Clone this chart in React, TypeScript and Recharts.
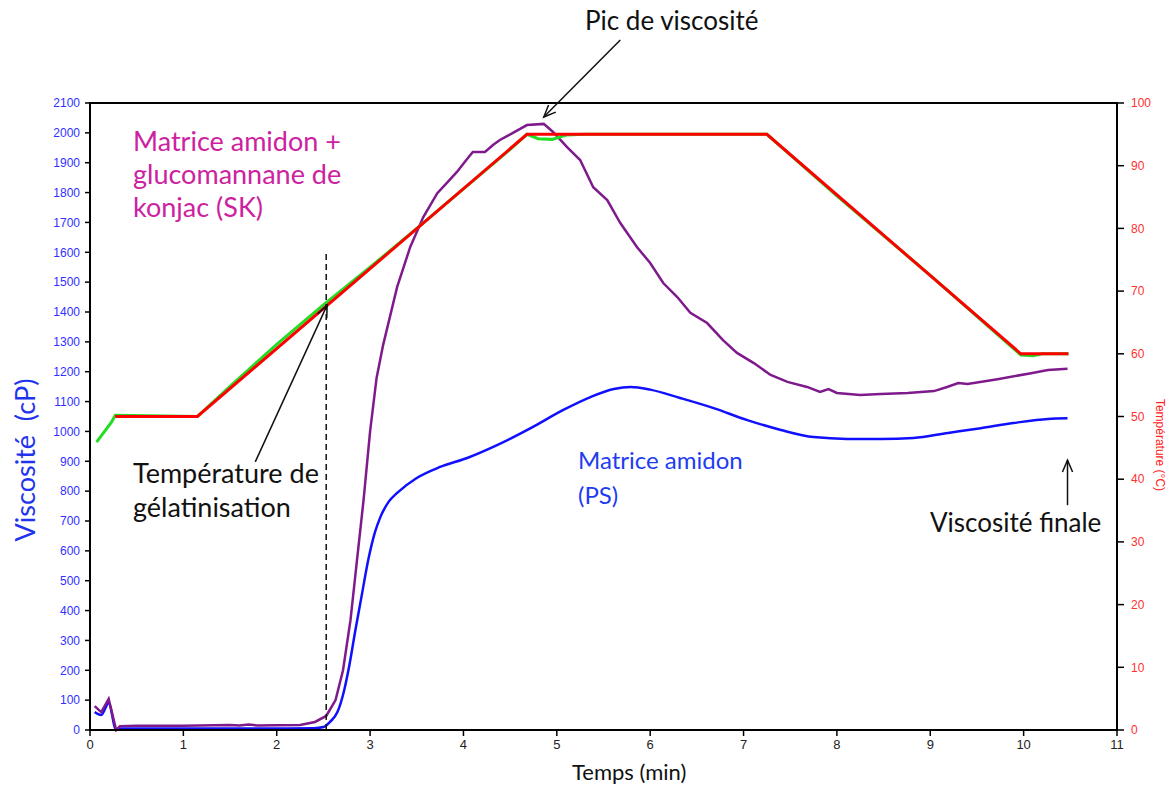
import React from 'react';
import { ComposedChart, Line, XAxis, YAxis, ReferenceLine, ReferenceArea } from 'recharts';

// Temps (min) / viscosité (cP) — matrice amidon + glucomannane de konjac (SK)
const skTime = [0.05, 0.12, 0.2, 0.28, 0.32, 0.5, 1.0, 1.5, 1.6, 1.7, 1.8, 2.0, 2.25, 2.41, 2.53, 2.63, 2.71, 2.79, 2.86, 2.93, 3.0, 3.07, 3.14, 3.29, 3.43, 3.57, 3.72, 3.83, 3.93, 4.02, 4.1, 4.23, 4.32, 4.39, 4.53, 4.68, 4.86, 4.96, 5.11, 5.25, 5.39, 5.54, 5.68, 5.86, 6.0, 6.14, 6.29, 6.43, 6.61, 6.78, 6.93, 7.11, 7.29, 7.47, 7.68, 7.82, 7.91, 8.0, 8.25, 8.47, 8.76, 9.04, 9.18, 9.3, 9.4, 9.72, 10.08, 10.26, 10.47];
const skVisc = [80, 60, 104, 0, 13, 14, 14, 17, 15, 18, 15, 16, 17, 27, 47, 100, 200, 368, 570, 770, 1000, 1180, 1290, 1484, 1618, 1718, 1798, 1835, 1869, 1905, 1936, 1936, 1960, 1976, 2000, 2026, 2030, 2003, 1952, 1909, 1818, 1775, 1698, 1617, 1564, 1497, 1450, 1397, 1363, 1306, 1263, 1229, 1189, 1166, 1149, 1132, 1142, 1129, 1122, 1125, 1129, 1135, 1149, 1162, 1159, 1175, 1195, 1206, 1210];

// matrice amidon (PS)
const psTime = [0.05, 0.12, 0.2, 0.28, 0.32, 1.0, 2.0, 2.4, 2.5, 2.57, 2.65, 2.72, 2.78, 2.84, 2.91, 2.98, 3.05, 3.11, 3.2, 3.29, 3.5, 3.75, 4.04, 4.36, 4.72, 5.07, 5.36, 5.61, 5.79, 6.0, 6.32, 6.68, 7.04, 7.4, 7.75, 8.11, 8.47, 8.82, 9.19, 9.54, 9.89, 10.26, 10.47];
const psVisc = [60, 50, 90, 0, 5, 5, 5, 6, 10, 27, 60, 130, 220, 330, 450, 569, 660, 713, 765, 794, 844, 881, 911, 954, 1011, 1072, 1115, 1142, 1149, 1140, 1112, 1078, 1038, 1005, 981, 975, 975, 978, 995, 1011, 1028, 1042, 1044];

// température mesurée (vert) et consigne (rouge), °C
const measTime = [0.07, 0.23, 0.27, 1.15, 1.5, 2.0, 2.5, 3.0, 3.5, 4.0, 4.5, 4.68, 4.8, 4.95, 5.1, 5.3, 7.25, 8.0, 9.0, 9.97, 10.1, 10.2, 10.48];
const measTemp = [45.9, 49.1, 50.2, 50, 54.8, 61.5, 67.8, 73.8, 80, 86.3, 92.6, 95, 94.3, 94.2, 94.9, 95, 95, 85.2, 72.5, 59.8, 59.7, 60, 60];
const setTime = [0.27, 1.15, 4.68, 7.25, 9.97, 10.48];
const setTemp = [50, 50, 95, 95, 60, 60];

const xTicks = [0, 1, 2, 3, 4, 5, 6, 7, 8, 9, 10, 11];
const viscTicks = Array.from({ length: 22 }, (_, i) => i * 100);
const tempTicks = [0, 10, 20, 30, 40, 50, 60, 70, 80, 90, 100];

const zip = (t: number[], v: number[]) => t.map((x, i) => ({ t: x, v: v[i] }));
const skData = zip(skTime, skVisc);
const psData = zip(psTime, psVisc);
const measData = zip(measTime, measTemp);
const setData = zip(setTime, setTemp);

const textFont = 'Lato, "Open Sans", sans-serif';
const tickFont = '"Liberation Sans Narrow", "Liberation Sans", Arial, sans-serif';

const Arrow = (props: any) => {
  const { x1, y1, x2, y2, dashed } = props;
  if (x1 == null) return null;
  const ang = Math.atan2(y2 - y1, x2 - x1);
  const len = 13;
  const a1 = ang + Math.PI - 0.4;
  const a2 = ang + Math.PI + 0.4;
  return (
    <g>
      <line x1={x1} y1={y1} x2={x2} y2={y2} stroke="#111" strokeWidth={1.5} strokeDasharray={dashed ? '6 4' : undefined} />
      {!dashed && (
        <polyline
          points={`${x2 + len * Math.cos(a1)},${y2 + len * Math.sin(a1)} ${x2},${y2} ${x2 + len * Math.cos(a2)},${y2 + len * Math.sin(a2)}`}
          fill="none"
          stroke="#111"
          strokeWidth={1.5}
        />
      )}
    </g>
  );
};

const abs = (left: number, top: number, extra: React.CSSProperties = {}): React.CSSProperties => ({
  position: 'absolute',
  left,
  top,
  fontFamily: textFont,
  whiteSpace: 'pre',
  ...extra,
});

export default function App() {
  return (
    <div style={{ position: 'absolute', left: 0, top: 0, width: 1170, height: 787, background: '#fff' }}>
      <ComposedChart width={1170} height={787} margin={{ top: 103, right: 0, bottom: 17, left: 0 }}>
        <XAxis
          type="number"
          dataKey="t"
          domain={[0, 11]}
          ticks={xTicks}
          allowDataOverflow
          height={40}
          stroke="#000"
          axisLine={{ stroke: '#000', strokeWidth: 2 }}
          tickLine={{ stroke: '#000', strokeWidth: 1.5 }}
          tickSize={6}
          tickMargin={4}
          tick={{ fill: '#222', fontSize: 13, fontFamily: tickFont }}
        />
        <YAxis
          yAxisId="visc"
          domain={[0, 2100]}
          ticks={viscTicks}
          width={90}
          axisLine={{ stroke: '#000', strokeWidth: 2 }}
          tickLine={{ stroke: '#000', strokeWidth: 1.5 }}
          tickSize={5}
          tickMargin={5}
          tick={{ fill: '#3030ff', fontSize: 12, fontFamily: tickFont }}
        />
        <YAxis
          yAxisId="temp"
          orientation="right"
          domain={[0, 100]}
          ticks={tempTicks}
          width={53}
          axisLine={{ stroke: '#000', strokeWidth: 2 }}
          tickLine={{ stroke: '#000', strokeWidth: 1.5 }}
          tickSize={7}
          tickMargin={7}
          tick={{ fill: '#ff3030', fontSize: 12, fontFamily: tickFont }}
        />
        <ReferenceArea yAxisId="visc" x1={0} x2={11} y1={0} y2={2100} fill="none" stroke="#000" strokeWidth={2} />
        <Line yAxisId="visc" data={psData} dataKey="v" type="monotone" stroke="#1010ff" strokeWidth={2.5} dot={false} isAnimationActive={false} />
        <Line yAxisId="visc" data={skData} dataKey="v" type="linear" stroke="#7f1a8c" strokeWidth={2.5} dot={false} isAnimationActive={false} />
        <Line yAxisId="temp" data={measData} dataKey="v" type="linear" stroke="#22dd22" strokeWidth={3} dot={false} isAnimationActive={false} />
        <Line yAxisId="temp" data={setData} dataKey="v" type="linear" stroke="#ff0000" strokeWidth={3} dot={false} isAnimationActive={false} />
        <ReferenceLine yAxisId="visc" segment={[{ x: 2.53, y: 0 }, { x: 2.53, y: 1607 }]} ifOverflow="visible" shape={(p: any) => <Arrow {...p} dashed />} />
        <ReferenceLine yAxisId="visc" segment={[{ x: 1.77, y: 898 }, { x: 2.54, y: 1423 }]} ifOverflow="visible" shape={(p: any) => <Arrow {...p} />} />
        <ReferenceLine yAxisId="visc" segment={[{ x: 5.68, y: 2311 }, { x: 4.86, y: 2053 }]} ifOverflow="visible" shape={(p: any) => <Arrow {...p} />} />
        <ReferenceLine yAxisId="visc" segment={[{ x: 10.47, y: 753 }, { x: 10.47, y: 904 }]} ifOverflow="visible" shape={(p: any) => <Arrow {...p} />} />
      </ComposedChart>

      <div style={abs(585, 4, { fontSize: 26, color: '#111' })}>Pic de viscosité</div>
      <div style={abs(133, 124, { fontSize: 27, color: '#cc22a0', lineHeight: '33px' })}>
        {'Matrice amidon +\nglucomannane de\nkonjac (SK)'}
      </div>
      <div style={abs(133, 456, { fontSize: 27, color: '#111', lineHeight: '34px' })}>
        {'Température de\ngélatinisation'}
      </div>
      <div style={abs(578, 442, { fontSize: 24, color: '#1e3cf0', lineHeight: '35px' })}>
        {'Matrice amidon\n(PS)'}
      </div>
      <div style={abs(930, 506, { fontSize: 26, color: '#111' })}>Viscosité finale</div>
      <div style={abs(572, 758, { fontSize: 22, color: '#111' })}>Temps (min)</div>
      <div
        style={abs(24, 460, {
          fontSize: 27,
          color: '#2233ee',
          transform: 'translate(-50%, -50%) rotate(-90deg)',
        })}
      >
        Viscosité  (cP)
      </div>
      <div
        style={abs(1160, 445, {
          fontSize: 12,
          color: '#ff2020',
          fontFamily: tickFont,
          transform: 'translate(-50%, -50%) rotate(90deg)',
        })}
      >
        Température (°C)
      </div>
    </div>
  );
}
